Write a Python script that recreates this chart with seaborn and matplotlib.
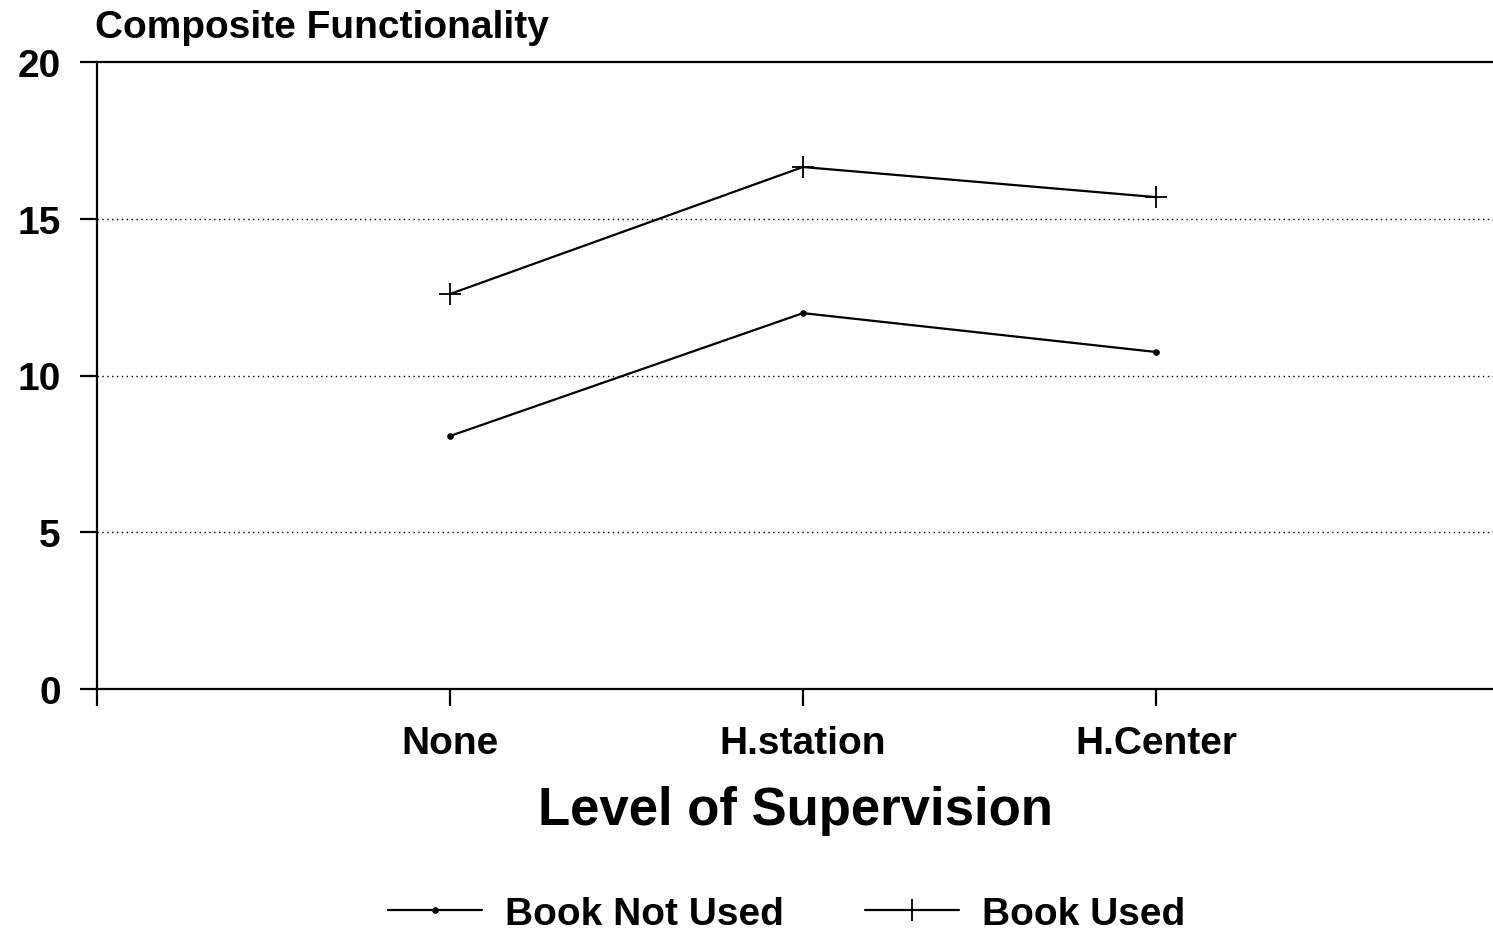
import pandas as pd
import numpy as np
import matplotlib
matplotlib.use("Agg")
import matplotlib.pyplot as plt
import seaborn as sns

# values
levels = ["None", "H.station", "H.Center"]
book_not_used = [8.07, 11.99, 10.75]
book_used = [12.6, 16.65, 15.69]
y_ticks = [0, 5, 10, 15, 20]

sns.set_theme(style="white")
plt.rcParams["font.family"] = ["Liberation Sans", "DejaVu Sans"]
plt.rcParams["font.weight"] = "bold"
plt.rcParams["text.color"] = "black"
plt.rcParams["xtick.color"] = "black"
plt.rcParams["ytick.color"] = "black"
plt.rcParams["axes.labelcolor"] = "black"

pos = np.arange(1, len(levels) + 1)
df = pd.DataFrame({
    "pos": np.concatenate([pos, pos]),
    "score": book_not_used + book_used,
    "group": ["Book Not Used"] * len(levels) + ["Book Used"] * len(levels),
})

fig = plt.figure(figsize=(14.93, 9.37), dpi=100)
ax = fig.add_axes([97 / 1493, 1 - 690 / 937, 1 - 97 / 1493, (690 - 63) / 937])

sns.lineplot(data=df[df.group == "Book Not Used"], x="pos", y="score", ax=ax,
             color="black", lw=1.6, marker="o", markersize=4,
             markeredgecolor="black", label="Book Not Used")
sns.lineplot(data=df[df.group == "Book Used"], x="pos", y="score", ax=ax,
             color="black", lw=1.6, marker="+", markersize=16, mew=1.3,
             markeredgecolor="black", label="Book Used")

ax.set_xlim(0, 3.955)
ax.set_ylim(0, 20)
ax.set_xticks([0] + list(pos))
ax.set_xticklabels([""] + levels)
ax.set_yticks(y_ticks)
ax.tick_params(axis="both", direction="out", length=12, width=1.6, color="black",
               labelsize=28, pad=14, left=True, bottom=True)
ax.tick_params(axis="x", pad=14)
for lab in ax.get_xticklabels() + ax.get_yticklabels():
    lab.set_fontweight("bold")

for y in [5, 10, 15]:
    ax.axhline(y, color="black", lw=1.0, ls=(0, (1, 2.5)), zorder=0)

for side in ["left", "bottom", "top"]:
    ax.spines[side].set_color("black")
    ax.spines[side].set_linewidth(1.6)
ax.spines["right"].set_visible(False)

ax.set_xlabel("Level of Supervision", fontsize=38, fontweight="bold", labelpad=17)
ax.set_ylabel("")

fig.text(95 / 1493, 1 - 28 / 937, "Composite Functionality", fontsize=28,
         fontweight="bold", ha="left", va="center")

handles, labels = ax.get_legend_handles_labels()
ax.get_legend().remove()
fig.legend(handles, labels, loc="center", bbox_to_anchor=(0.527, 1 - 915 / 937),
           ncol=2, frameon=False, fontsize=28, handlelength=2.4,
           columnspacing=2.1, handletextpad=0.6)

fig.savefig("out.png", dpi=100, facecolor="white")
